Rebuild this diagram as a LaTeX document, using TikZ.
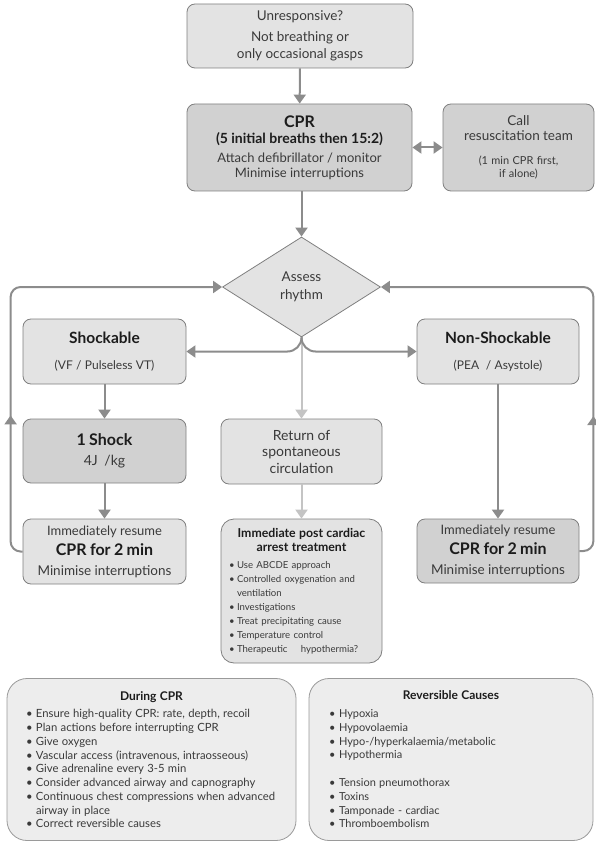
\documentclass[tikz,border=0pt]{standalone}
\usepackage{fontspec}
\setmainfont{Lato}
\usetikzlibrary{shapes.geometric,arrows.meta,decorations.markings}
\definecolor{lnD}{HTML}{8C8C8C}
\definecolor{lnL}{HTML}{C4C4C4}
\definecolor{bd}{HTML}{7F7F7F}
\definecolor{bdL}{HTML}{9A9A9A}
\definecolor{fL}{HTML}{E3E3E3}
\definecolor{fD}{HTML}{D1D1D1}
\definecolor{fP}{HTML}{EDEDED}
\definecolor{tx}{HTML}{3A3A3A}
\definecolor{tb}{HTML}{1C1C1C}
\newlength\bind
\newcommand\bitem[1]{\par\hangindent=\bind\hangafter=1\noindent\hbox to \bind{\textbullet\hfil}#1}
\newcommand\ttl{\bfseries\color{tb}}
\newcommand\nrm{\mdseries\color{tx}}
\tikzset{
  box/.style={draw=bd, line width=0.8pt, rounded corners=8pt, inner sep=0pt, align=center, text=tx,
    execute at begin node={\hyphenpenalty=10000\exhyphenpenalty=10000\hbadness=10000\hfuzz=20pt}},
  lbox/.style={box, fill=fL},
  dbox/.style={box, fill=fD},
  pbox/.style={draw=bdL, line width=0.8pt, fill=fP, inner sep=0pt, align=left, text=tx,
    execute at begin node={\hyphenpenalty=10000\exhyphenpenalty=10000\hbadness=10000\hfuzz=20pt}},
  arr/.style={color=lnD, line width=2pt, -{Triangle[width=12pt,length=9pt]}},
  arrL/.style={color=lnL, line width=2pt, -{Triangle[width=12pt,length=9pt]}},
  uparr/.style={postaction={decorate}, decoration={markings, mark=at position 0.3 with {\arrow{Triangle[width=12pt,length=9pt]}}}}
}
\begin{document}
\begin{tikzpicture}[x=1pt,y=-1pt]
\useasboundingbox (0,0) rectangle (596,842);

\node[lbox, minimum width=226pt, minimum height=64pt, text width=215pt] (top) at (300,36)
  {\vspace*{3pt}\fontsize{13.5}{17.5}\selectfont Unresponsive?\par Not breathing or\par only occasional gasps\par};

\node[dbox, minimum width=225pt, minimum height=87pt, text width=215pt] (cpr) at (299.5,147.5)
  {\fontsize{16}{17}\selectfont\ttl CPR\par\fontsize{14}{16}\selectfont (5 initial breaths then 15:2)\par
   \nrm\fontsize{13}{19}\selectfont Attach defibrillator / monitor\par\fontsize{13}{15}\selectfont Minimise interruptions\par};

\node[dbox, minimum width=151pt, minimum height=87pt, text width=145pt] (call) at (518.5,147.5)
  {\fontsize{13.5}{15}\selectfont Call\par resuscitation team\par
   \fontsize{11}{24}\selectfont (1 min CPR first,\par\fontsize{11}{13}\selectfont if alone)\par};

\node[diamond, draw=bd, fill=fL, line width=0.8pt, minimum width=158pt, minimum height=100pt,
  inner sep=0pt, align=center, text=tx, font=\fontsize{13.5}{17.5}\selectfont] (dia) at (301.5,287)
  {Assess\\ rhythm};

\node[lbox, minimum width=163pt, minimum height=65pt, text width=155pt] (shock) at (104.5,351.5)
  {\fontsize{15.5}{17}\selectfont\ttl Shockable\par\nrm\fontsize{12}{26}\selectfont (VF / Pulseless VT)\par};

\node[lbox, minimum width=162pt, minimum height=65pt, text width=155pt] (nons) at (498,351.5)
  {\fontsize{15.5}{17}\selectfont\ttl Non-Shockable\par\nrm\fontsize{12}{26}\selectfont (PEA\ \ / Asystole)\par};

\node[dbox, minimum width=163pt, minimum height=64pt, text width=155pt] (one) at (104.5,451)
  {\fontsize{16}{17}\selectfont\ttl 1 Shock\par\nrm\fontsize{14}{20}\selectfont 4J\ \ /kg\par};

\node[lbox, minimum width=161pt, minimum height=65pt, text width=155pt] (rosc) at (301.5,451.5)
  {\fontsize{14}{16.5}\selectfont Return of\par spontaneous\par circulation\par};

\node[lbox, minimum width=163pt, minimum height=65pt, text width=155pt] (resL) at (104.5,551.5)
  {\vspace*{3pt}\fontsize{13}{15}\selectfont Immediately resume\par\fontsize{16}{17}\selectfont\ttl CPR for 2 min\par
   \nrm\fontsize{13.5}{20}\selectfont Minimise interruptions\par};

\node[dbox, minimum width=162pt, minimum height=64pt, text width=155pt] (resR) at (498,551)
  {\vspace*{3pt}\fontsize{13}{15}\selectfont Immediately resume\par\fontsize{16}{17}\selectfont\ttl CPR for 2 min\par
   \nrm\fontsize{13.5}{20}\selectfont Minimise interruptions\par};

\node[pbox, fill=fL, draw=bd, rounded corners=13pt, minimum width=161pt, minimum height=144pt, text width=145pt] (post) at (301.5,591)
  {\fontsize{12.3}{14}\selectfont\ttl{\centering Immediate post cardiac\\ arrest treatment\par}
   \nrm\fontsize{9.6}{14}\selectfont\setlength\bind{8pt}\vspace{3pt}%
   \bitem{Use ABCDE approach}\bitem{Controlled oxygenation and\newline ventilation}\bitem{Investigations}%
   \bitem{Treat precipitating cause}\bitem{Temperature control}\bitem{Therapeutic\ \ \ \ hypothermia?}\par};

\node[pbox, rounded corners=20pt, minimum width=289pt, minimum height=162pt, text width=251pt] (during) at (151.5,759.5)
  {\fontsize{12}{13}\selectfont\ttl{\centering During CPR\par}
   \nrm\fontsize{11.3}{13.75}\selectfont\setlength\bind{10pt}\vspace{4pt}%
   \bitem{Ensure high-quality CPR: rate, depth, recoil}\bitem{Plan actions before interrupting CPR}%
   \bitem{Give oxygen}\bitem{Vascular access (intravenous, intraosseous)}\bitem{Give adrenaline every 3-5 min}%
   \bitem{Consider advanced airway and capnography}\bitem{Continuous chest compressions when advanced\newline airway in place}%
   \bitem{Correct reversible causes}\par};

\node[pbox, rounded corners=20pt, minimum width=284pt, minimum height=162pt, text width=244pt] (rev) at (451,759.5)
  {\fontsize{12}{13}\selectfont\ttl{\centering Reversible Causes\par}
   \nrm\fontsize{11}{13.75}\selectfont\setlength\bind{10pt}\vspace{4pt}%
   \bitem{Hypoxia}\bitem{Hypovolaemia}\bitem{Hypo-/hyperkalaemia/metabolic}\bitem{Hypothermia}\par\vspace{14pt}%
   \bitem{Tension pneumothorax}\bitem{Toxins}\bitem{Tamponade - cardiac}\bitem{Thromboembolism}\par};

% connectors
\draw[arr] (top) -- (cpr);
\draw[color=lnD, line width=2pt, {Triangle[width=12pt,length=9pt]}-{Triangle[width=12pt,length=9pt]}] (cpr) -- (call);
\draw[arr] (cpr.south -| dia.north) -- (dia.north);
\draw[arrL] (dia.south) -- (rosc.north);
\draw[arr, rounded corners=14pt] (dia.south) |- (shock.east);
\draw[arr, rounded corners=14pt] (dia.south) |- (nons.west);
\draw[arr] (shock) -- (one);
\draw[arr] (one) -- (resL);
\draw[arr] (nons) -- (resR);
\draw[arrL] (rosc) -- (post);
\draw[arr, uparr, rounded corners=10pt] (resL.west) -- ++(-12,0) |- (dia.west);
\draw[arr, uparr, rounded corners=10pt] (resR.east) -- ++(14,0) |- (dia.east);
\end{tikzpicture}
\end{document}
